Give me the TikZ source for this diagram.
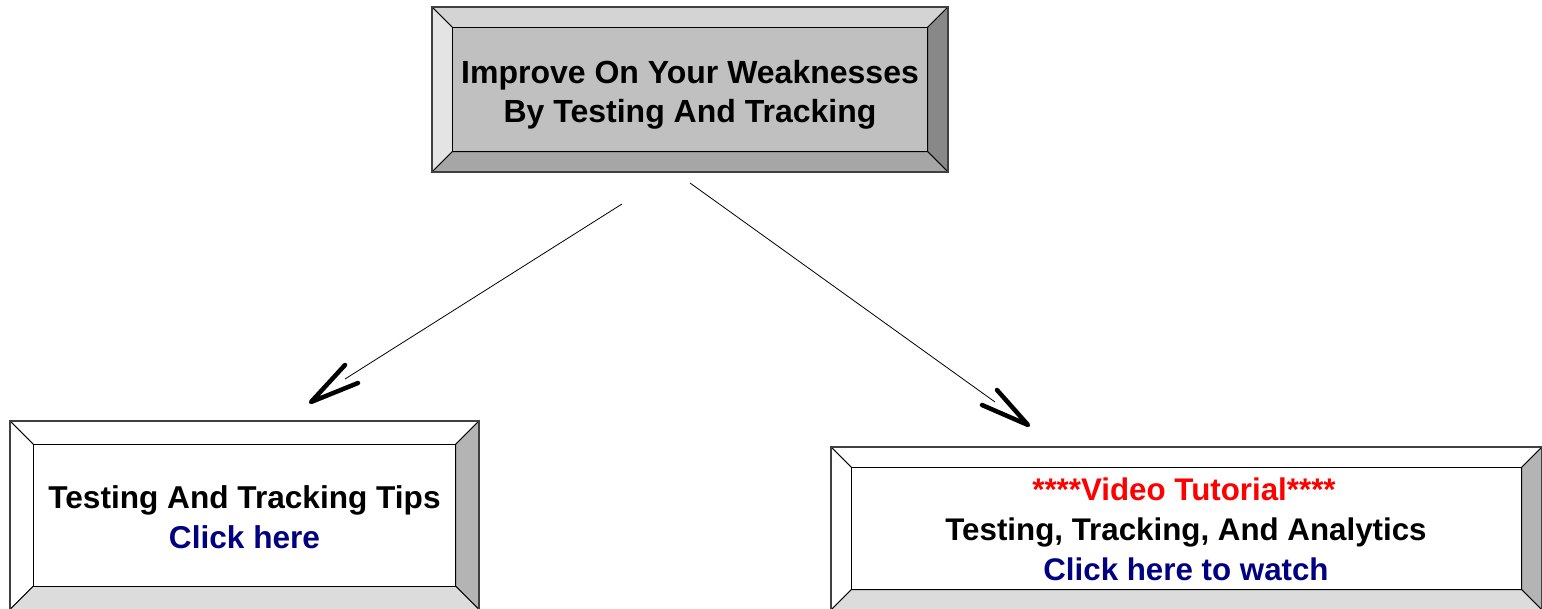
\documentclass[tikz,border=0pt]{standalone}
\usepackage{fontspec}
\setmainfont{Liberation Sans}
\definecolor{gTop}{HTML}{D4D4D4}
\definecolor{gLeft}{HTML}{E4E4E4}
\definecolor{gRight}{HTML}{888888}
\definecolor{gBottom}{HTML}{A6A6A6}
\definecolor{gCenter}{HTML}{C0C0C0}
\definecolor{wTop}{HTML}{FFFFFF}
\definecolor{wLeft}{HTML}{FFFFFF}
\definecolor{wRight}{HTML}{B4B4B4}
\definecolor{wBottom}{HTML}{DCDCDC}
\definecolor{wCenter}{HTML}{FFFFFF}
\definecolor{linkblue}{HTML}{000080}
\definecolor{vidred}{HTML}{FF0000}
\tikzset{
  facet/.style={draw=black, line width=1pt, line join=miter},
  outerrim/.style={draw=black!75, line width=1.5pt},
  lbl/.style={font=\fontsize{32}{39}\selectfont\bfseries, inner sep=0pt, anchor=base},
  lblL/.style={lbl, font=\fontsize{31.6}{39}\selectfont\bfseries},
  lblR/.style={lbl, font=\fontsize{31.3}{39}\selectfont\bfseries},
  conn/.style={line width=0.8pt},
  headv/.style={line width=4.5pt, line cap=round, line join=round},
}
% #1 colour prefix, #2 x1, #3 y1, #4 x2, #5 y2, #6 bevel
\newcommand\bevbox[6]{%
  \filldraw[facet, fill=#1Top] (#2,#3) -- (#4,#3) -- ({#4-#6},{#3+#6}) -- ({#2+#6},{#3+#6}) -- cycle;
  \filldraw[facet, fill=#1Left] (#2,#3) -- ({#2+#6},{#3+#6}) -- ({#2+#6},{#5-#6}) -- (#2,#5) -- cycle;
  \filldraw[facet, fill=#1Right] (#4,#3) -- ({#4-#6},{#3+#6}) -- ({#4-#6},{#5-#6}) -- (#4,#5) -- cycle;
  \filldraw[facet, fill=#1Bottom] (#2,#5) -- ({#2+#6},{#5-#6}) -- ({#4-#6},{#5-#6}) -- (#4,#5) -- cycle;
  \filldraw[facet, fill=#1Center] ({#2+#6},{#3+#6}) rectangle ({#4-#6},{#5-#6});
  \draw[outerrim] (#2,#3) rectangle (#4,#5);
}
\begin{document}
\begin{tikzpicture}[x=1pt,y=-1pt]
  \useasboundingbox (0,0) rectangle (1542,608);
  % boxes
  \bevbox{g}{432}{7}{948}{172}{20.5}
  \bevbox{w}{10}{421}{479}{609.5}{23.5}
  \bevbox{w}{831}{447}{1542}{610}{20.5}
  % texts
  \node[lbl] (t1) at (690,83) {Improve On Your Weaknesses};
  \node[lbl] (t2) at (690,122) {By Testing And Tracking};
  \node[lblL] (l1) at (244.5,508) {Testing And Tracking Tips};
  \node[lblL, text=linkblue] (l2) at (244.5,548) {Click here};
  \node[lblR, text=vidred] (r1) at (1184,500) {****Video Tutorial****};
  \node[lblR] (r2) at (1186,540) {Testing, Tracking, And Analytics};
  \node[lblR, text=linkblue] (r3) at (1186,580) {Click here to watch};
  % connectors
  \coordinate (s1) at (622,204);
  \coordinate (e1) at (345,379);
  \coordinate (tip1) at (311,402);
  \coordinate (b1a) at (345,365);
  \coordinate (b1b) at (358,383);
  \coordinate (s2) at (690,183);
  \coordinate (e2) at (995,402);
  \coordinate (tip2) at (1028,425);
  \coordinate (b2a) at (997,390);
  \coordinate (b2b) at (982,405);
  \draw[conn] (s1) -- (e1);
  \draw[headv] (b1a) -- (tip1) -- (b1b);
  \draw[conn] (s2) -- (e2);
  \draw[headv] (b2a) -- (tip2) -- (b2b);
\end{tikzpicture}
\end{document}
